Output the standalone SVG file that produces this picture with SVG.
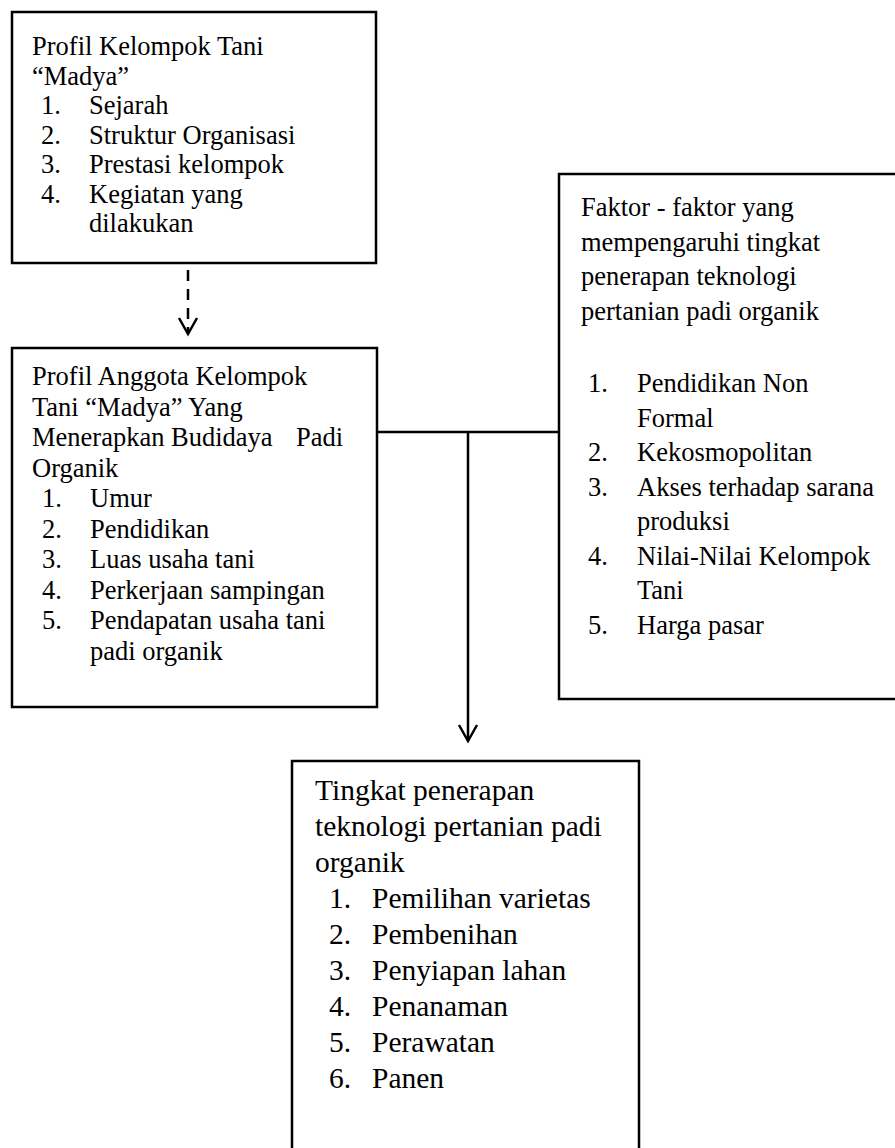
<svg xmlns="http://www.w3.org/2000/svg" width="895" height="1148" viewBox="0 0 895 1148">
<style>
.box{fill:#fff;stroke:#000;stroke-width:2.5}
.t{font-family:"Liberation Serif","Times New Roman",serif;fill:#000}
.s1{font-size:26.5px}
.s3{font-size:29.5px}
.ln{fill:none;stroke:#000;stroke-width:2.5}
.dash{stroke-dasharray:11 8}
</style>
<defs>
<marker id="arr" viewBox="0 0 22 22" refX="19" refY="11" markerWidth="22" markerHeight="22" markerUnits="userSpaceOnUse" orient="auto">
<path d="M3,2 L19,11 L3,20" fill="none" stroke="#000" stroke-width="2.5"/>
</marker>
</defs>
<g id="connectors">
<line class="ln dash" x1="188" y1="270" x2="188" y2="334" marker-end="url(#arr)"/>
<line class="ln" x1="377" y1="432" x2="559" y2="432"/>
<line class="ln" x1="468" y1="432" x2="468" y2="741" marker-end="url(#arr)"/>
</g>
<g id="node-profil-kelompok">
<rect class="box" x="12" y="12" width="364" height="251"/>
<text class="t s1" x="32" y="55">Profil Kelompok Tani</text>
<text class="t s1" x="32" y="84.5">“Madya”</text>
<text class="t s1" x="41" y="114">1.</text><text class="t s1" x="89" y="114">Sejarah</text>
<text class="t s1" x="41" y="143.5">2.</text><text class="t s1" x="89" y="143.5">Struktur Organisasi</text>
<text class="t s1" x="41" y="173">3.</text><text class="t s1" x="89" y="173">Prestasi kelompok</text>
<text class="t s1" x="41" y="202.5">4.</text><text class="t s1" x="89" y="202.5">Kegiatan yang</text>
<text class="t s1" x="89" y="232">dilakukan</text>
</g>
<g id="node-profil-anggota">
<rect class="box" x="12" y="348" width="365" height="359"/>
<text class="t s1" x="32" y="385">Profil Anggota Kelompok</text>
<text class="t s1" x="32" y="416">Tani “Madya” Yang</text>
<text class="t s1" x="32" y="446">Menerapkan Budidaya<tspan x="296">Padi</tspan></text>
<text class="t s1" x="32" y="477">Organik</text>
<text class="t s1" x="42" y="507">1.</text><text class="t s1" x="90" y="507">Umur</text>
<text class="t s1" x="42" y="538">2.</text><text class="t s1" x="90" y="538">Pendidikan</text>
<text class="t s1" x="42" y="568">3.</text><text class="t s1" x="90" y="568">Luas usaha tani</text>
<text class="t s1" x="42" y="599">4.</text><text class="t s1" x="90" y="599">Perkerjaan sampingan</text>
<text class="t s1" x="42" y="629">5.</text><text class="t s1" x="90" y="629">Pendapatan usaha tani</text>
<text class="t s1" x="90" y="660">padi organik</text>
</g>
<g id="node-faktor">
<rect class="box" x="559" y="174" width="345" height="525"/>
<text class="t s1" x="581" y="216">Faktor - faktor yang</text>
<text class="t s1" x="581" y="250.5">mempengaruhi tingkat</text>
<text class="t s1" x="581" y="285">penerapan teknologi</text>
<text class="t s1" x="581" y="319.5">pertanian padi organik</text>
<text class="t s1" x="588" y="392">1.</text><text class="t s1" x="637" y="392">Pendidikan Non</text>
<text class="t s1" x="637" y="426.5">Formal</text>
<text class="t s1" x="588" y="461">2.</text><text class="t s1" x="637" y="461">Kekosmopolitan</text>
<text class="t s1" x="588" y="495.5">3.</text><text class="t s1" x="637" y="495.5">Akses terhadap sarana</text>
<text class="t s1" x="637" y="530">produksi</text>
<text class="t s1" x="588" y="564.5">4.</text><text class="t s1" x="637" y="564.5">Nilai-Nilai Kelompok</text>
<text class="t s1" x="637" y="599">Tani</text>
<text class="t s1" x="588" y="633.5">5.</text><text class="t s1" x="637" y="633.5">Harga pasar</text>
</g>
<g id="node-tingkat">
<rect class="box" x="292" y="761" width="347" height="400"/>
<text class="t s3" x="315" y="800">Tingkat penerapan</text>
<text class="t s3" x="315" y="836">teknologi pertanian padi</text>
<text class="t s3" x="315" y="872">organik</text>
<text class="t s3" x="329" y="908">1.</text><text class="t s3" x="372" y="908">Pemilihan varietas</text>
<text class="t s3" x="329" y="944">2.</text><text class="t s3" x="372" y="944">Pembenihan</text>
<text class="t s3" x="329" y="980">3.</text><text class="t s3" x="372" y="980">Penyiapan lahan</text>
<text class="t s3" x="329" y="1016">4.</text><text class="t s3" x="372" y="1016">Penanaman</text>
<text class="t s3" x="329" y="1052">5.</text><text class="t s3" x="372" y="1052">Perawatan</text>
<text class="t s3" x="329" y="1088">6.</text><text class="t s3" x="372" y="1088">Panen</text>
</g>
</svg>
